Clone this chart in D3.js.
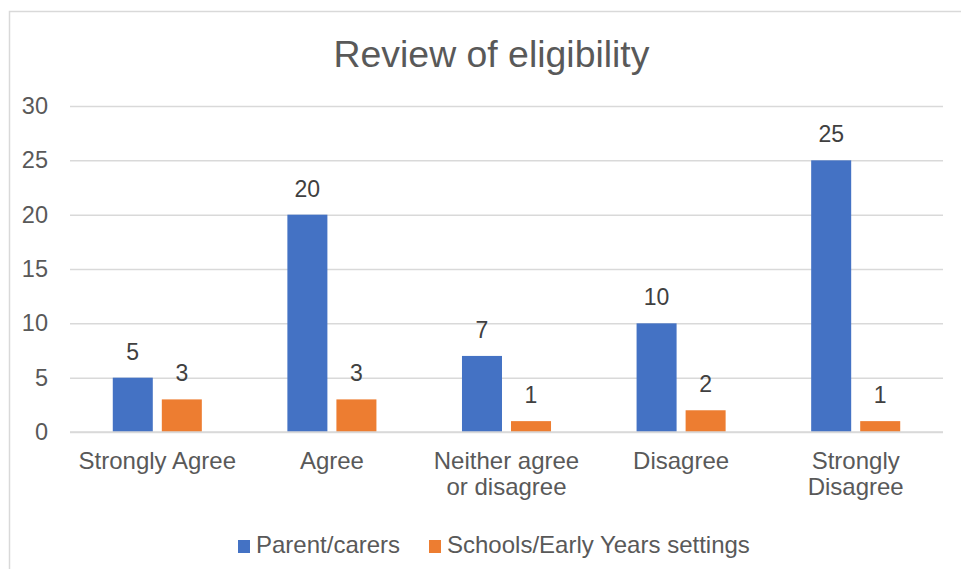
<!DOCTYPE html>
<html>
<head>
<meta charset="utf-8">
<script src="https://cdn.jsdelivr.net/npm/d3@7"></script>
<style>
  body { margin: 0; background: #fff; }
  svg { display: block; }
</style>
</head>
<body>
<div id="chart"></div>
<script>
const categories = [["Strongly Agree"], ["Agree"], ["Neither agree", "or disagree"], ["Disagree"], ["Strongly", "Disagree"]];
const seriesNames = ["Parent/carers", "Schools/Early Years settings"];
const parentValues = [5, 20, 7, 10, 25];
const schoolValues = [3, 3, 1, 2, 1];
const yTicks = [0, 5, 10, 15, 20, 25, 30];

const colors = ["#4472C4", "#ED7D31"];
const textColor = "#595959";
const labelColor = "#404040";
const fontFamily = "'Liberation Sans', Arial, sans-serif";

const W = 961, H = 569;
const plot = {left: 70, right: 943, top: 106, bottom: 432};

const svg = d3.select("#chart")
    .append("svg")
    .attr("width", W)
    .attr("height", H)
    .style("font-family", fontFamily);

// chart border (runs off the right and bottom of the frame)
svg.append("rect")
    .attr("x", 9.5)
    .attr("y", 11.5)
    .attr("width", 990)
    .attr("height", 600)
    .attr("fill", "#fff")
    .attr("stroke", "#d9d9d9")
    .attr("stroke-width", 1.5);

// title
svg.append("text")
    .attr("x", 491.5)
    .attr("y", 67)
    .attr("text-anchor", "middle")
    .attr("fill", textColor)
    .style("font-size", "37.4px")
    .text("Review of eligibility");

const catKeys = categories.map(c => c.join(" "));

const x0 = d3.scaleBand()
    .domain(catKeys)
    .range([plot.left, plot.right])
    .paddingInner(0.49)
    .paddingOuter(0.245);

const x1 = d3.scaleBand()
    .domain(seriesNames)
    .range([0, x0.bandwidth()])
    .paddingInner(0.184);

const y = d3.scaleLinear()
    .domain([0, 30])
    .range([plot.bottom, plot.top]);

// gridlines + y labels
const yAxis = svg.append("g")
    .attr("transform", `translate(${plot.left},0)`)
    .call(d3.axisLeft(y)
        .tickValues(yTicks)
        .tickSize(-(plot.right - plot.left))
        .tickPadding(22));

yAxis.select(".domain").remove();
yAxis.selectAll(".tick line")
    .attr("stroke", "#d9d9d9")
    .attr("stroke-width", 1.5);
yAxis.selectAll(".tick text")
    .attr("fill", textColor)
    .style("font-family", fontFamily)
    .style("font-size", "23.5px");

// bars
const rows = catKeys.map((k, i) => ({
    key: k,
    values: [parentValues[i], schoolValues[i]]
}));

const groups = svg.selectAll("g.cat")
    .data(rows)
    .enter()
    .append("g")
    .attr("class", "cat")
    .attr("transform", d => `translate(${x0(d.key)},0)`);

groups.selectAll("rect")
    .data(d => d.values.map((v, j) => ({name: seriesNames[j], value: v, j})))
    .enter()
    .append("rect")
    .attr("x", d => x1(d.name))
    .attr("y", d => y(d.value))
    .attr("width", x1.bandwidth())
    .attr("height", d => y(0) - y(d.value))
    .attr("fill", d => colors[d.j]);

groups.selectAll("text.val")
    .data(d => d.values.map((v, j) => ({name: seriesNames[j], value: v})))
    .enter()
    .append("text")
    .attr("class", "val")
    .attr("x", d => x1(d.name) + x1.bandwidth() / 2)
    .attr("y", d => y(d.value) - 18)
    .attr("text-anchor", "middle")
    .attr("fill", labelColor)
    .style("font-size", "23px")
    .text(d => d.value);

// redraw the baseline on top of bars
svg.append("line")
    .attr("x1", plot.left)
    .attr("x2", plot.right)
    .attr("y1", y(0))
    .attr("y2", y(0))
    .attr("stroke", "#d9d9d9")
    .attr("stroke-width", 1.5);

// category labels
categories.forEach((lines, i) => {
    const cx = x0(catKeys[i]) + x0.bandwidth() / 2;
    const t = svg.append("text")
        .attr("text-anchor", "middle")
        .attr("fill", textColor)
        .style("font-size", "24px");
    lines.forEach((line, k) => {
        t.append("tspan")
            .attr("x", cx)
            .attr("y", 469 + k * 26)
            .text(line);
    });
});

// legend
const legendX = [238, 429];
const legend = svg.selectAll("g.legend")
    .data(seriesNames)
    .enter()
    .append("g")
    .attr("class", "legend")
    .attr("transform", (d, i) => `translate(${legendX[i]},540)`);

legend.append("rect")
    .attr("width", 12)
    .attr("height", 13)
    .attr("fill", (d, i) => colors[i]);

legend.append("text")
    .attr("x", 18)
    .attr("y", 13)
    .attr("fill", textColor)
    .style("font-size", "24px")
    .text(d => d);
</script>
</body>
</html>
